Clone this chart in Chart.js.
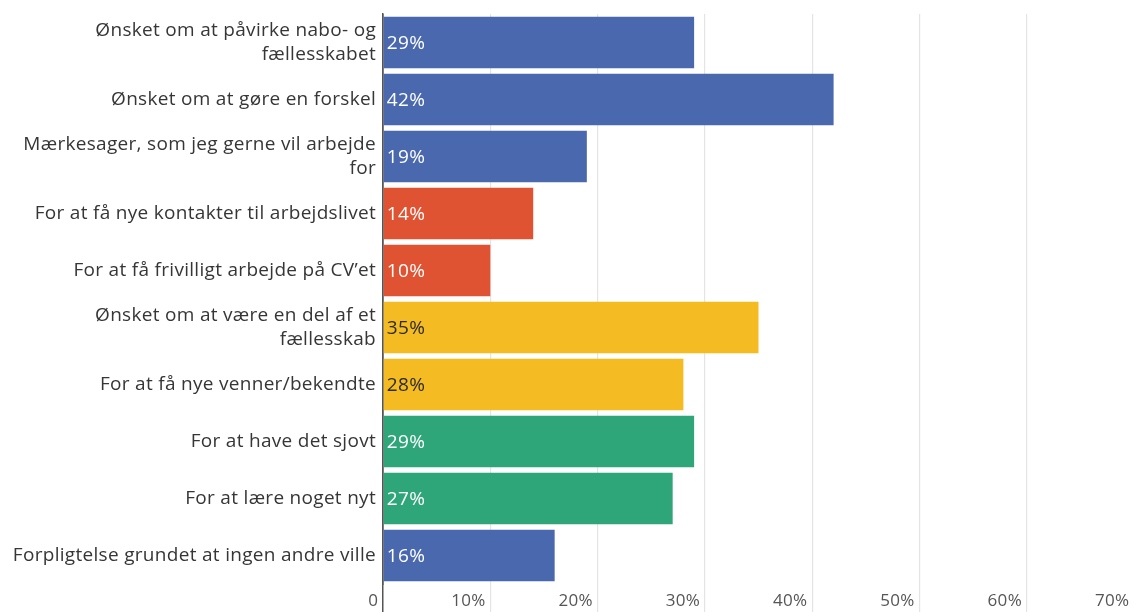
<!DOCTYPE html>
<html>
<head>
<meta charset="utf-8">
<script src="https://cdn.jsdelivr.net/npm/chart.js@4.4.0/dist/chart.umd.min.js"></script>
<style>
  html, body { margin: 0; padding: 0; background: #fff; overflow: hidden; }
  #wrap { width: 1136px; height: 612px; position: relative; }
</style>
</head>
<body>
<div id="wrap"><canvas id="c"></canvas></div>
<script>
const categories = [
  ["Ønsket om at påvirke nabo- og", "fællesskabet"],
  "Ønsket om at gøre en forskel",
  ["Mærkesager, som jeg gerne vil arbejde", "for"],
  "For at få nye kontakter til arbejdslivet",
  "For at få frivilligt arbejde på CV’et",
  ["Ønsket om at være en del af et", "fællesskab"],
  "For at få nye venner/bekendte",
  "For at have det sjovt",
  "For at lære noget nyt",
  "Forpligtelse grundet at ingen andre ville"
];
const values = [29, 42, 19, 14, 10, 35, 28, 29, 27, 16];
const groups = ["A", "A", "A", "B", "B", "C", "C", "D", "D", "A"];
const xTicks = [0, 10, 20, 30, 40, 50, 60, 70];

const groupColor = { A: "#4a68ad", B: "#e05332", C: "#f4bc22", D: "#2fa57a" };
const groupText = { A: "#ffffff", B: "#ffffff", C: "#2b2b2b", D: "#ffffff" };
const FONT = "Open Sans";
const SPACING = "0.3px";

const spacingPlugin = {
  id: "spacing",
  beforeUpdate(chart) { chart.ctx.letterSpacing = SPACING; },
  beforeLayout(chart) { chart.ctx.letterSpacing = SPACING; },
  beforeDraw(chart) { chart.ctx.letterSpacing = SPACING; }
};

const valueLabels = {
  id: "valueLabels",
  afterDatasetsDraw(chart) {
    const ctx = chart.ctx;
    const meta = chart.getDatasetMeta(0);
    ctx.save();
    ctx.letterSpacing = "0.4px";
    ctx.font = "19px '" + FONT + "'";
    ctx.textAlign = "left";
    ctx.textBaseline = "middle";
    meta.data.forEach((bar, i) => {
      ctx.fillStyle = groupText[groups[i]];
      ctx.fillText(values[i] + "%", bar.base + 3, bar.y + 1);
    });
    ctx.restore();
  }
};

new Chart(document.getElementById("c"), {
  type: "bar",
  data: {
    labels: categories,
    datasets: [{
      data: values,
      backgroundColor: groups.map(g => groupColor[g]),
      barPercentage: 0.9,
      categoryPercentage: 1.0
    }]
  },
  options: {
    indexAxis: "y",
    responsive: true,
    maintainAspectRatio: false,
    animation: false,
    layout: { padding: { top: 14, right: 2, left: 0, bottom: 0 } },
    plugins: { legend: { display: false }, tooltip: { enabled: false } },
    scales: {
      x: {
        min: 0, max: 70,
        afterBuildTicks(scale) { scale.ticks = xTicks.map(v => ({ value: v })); },
        afterFit(scale) { scale.height = 28; },
        grid: {
          color: c => (c.tick && c.tick.value === 0) ? "#555555" : "#e4e4e4",
          tickColor: c => (c.tick && c.tick.value === 0) ? "#555555" : "#e4e4e4",
          lineWidth: c => (c.tick && c.tick.value === 0) ? 1.5 : 1.2,
          tickLength: 28,
          drawTicks: true
        },
        border: { display: false },
        ticks: {
          align: "end",
          padding: -21,
          maxRotation: 0,
          autoSkip: false,
          color: "#555555",
          font: { family: FONT, size: 17 },
          callback: v => (v === 0 ? "0" : v + "%") + " "
        }
      },
      y: {
        afterFit(scale) { scale.width = 383; scale.paddingTop = 0; scale.paddingBottom = 0; },
        grid: { display: false, drawTicks: false },
        border: { display: true, color: "#555555", width: 1.5 },
        ticks: {
          padding: 7,
          color: "#363636",
          font: { family: FONT, size: 19, lineHeight: 1.26 }
        }
      }
    }
  },
  plugins: [spacingPlugin, valueLabels]
});
</script>
</body>
</html>
